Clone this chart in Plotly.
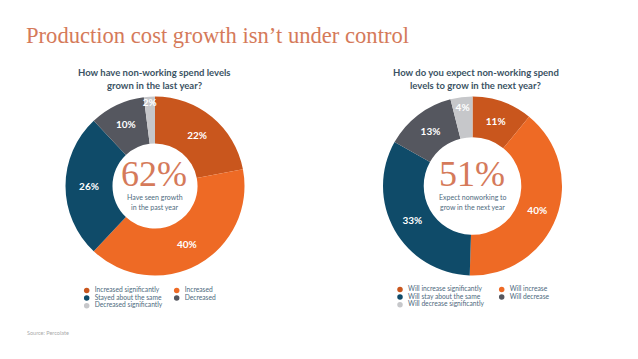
import plotly.graph_objects as go

# ---------------- data ----------------
TITLE = "Production cost growth isn’t under control"
SOURCE = "Source: Percolate"

LEFT_QUESTION = ["How have non-working spend levels", "grown in the last year?"]
LEFT_LABELS = ["Increased significantly", "Increased", "Stayed about the same",
               "Decreased", "Decreased significantly"]
LEFT_VALUES = [22, 40, 26, 10, 2]
LEFT_NOTE = ["Have seen growth", "in the past year"]

RIGHT_QUESTION = ["How do you expect non-working spend", "levels to grow in the next year?"]
RIGHT_LABELS = ["Will increase significantly", "Will increase", "Will stay about the same",
                "Will decrease", "Will decrease significantly"]
RIGHT_VALUES = [11, 40, 33, 13, 4]
RIGHT_NOTE = ["Expect nonworking to", "grow in the next year"]

# ---------------- style ----------------
W, H = 638, 359
COLORS = ["#C9561D", "#EE6A25", "#0F4B69", "#55575F", "#C6C7CA"]
TITLE_COLOR = "#D57A5A"
Q_COLOR = "#3B5364"
NOTE_COLOR = "#4E6A7E"
SERIF = "Liberation Serif, DejaVu Serif, serif"
SANS = "Lato, Open Sans, sans-serif"

donuts = [
    dict(labels=LEFT_LABELS, values=LEFT_VALUES, q=LEFT_QUESTION, note=LEFT_NOTE,
         cx=155, cy=186, r=89.5, hole=0.475, qx=154,
         leg_x=86.7, leg_y=290.5, col_step=90.0),
    dict(labels=RIGHT_LABELS, values=RIGHT_VALUES, q=RIGHT_QUESTION, note=RIGHT_NOTE,
         cx=472.5, cy=186, r=89.5, hole=0.545, qx=475.5,
         leg_x=400.0, leg_y=289.5, col_step=101.7),
]
ROW_STEP = 7.6

fig = go.Figure()
annotations = []

for d in donuts:
    fig.add_trace(go.Pie(
        labels=d["labels"], values=d["values"],
        marker=dict(colors=COLORS, line=dict(width=0)),
        hole=d["hole"], sort=False, direction="clockwise", rotation=0,
        texttemplate="%{value}%", textposition="inside",
        insidetextorientation="horizontal",
        textfont=dict(color="white", size=10, family=SANS, weight="bold"),
        domain=dict(x=[(d["cx"] - d["r"]) / W, (d["cx"] + d["r"]) / W],
                    y=[(H - d["cy"] - d["r"]) / H, (H - d["cy"] + d["r"]) / H]),
        showlegend=False, hoverinfo="skip",
    ))

    # legend drawn as markers + text (2 columns, row-major)
    cols = [i % 2 for i in range(len(d["labels"]))]
    rows = [i // 2 for i in range(len(d["labels"]))]
    mx = [d["leg_x"] + c * d["col_step"] for c in cols]
    my = [d["leg_y"] + r * ROW_STEP for r in rows]
    fig.add_trace(go.Scatter(
        x=mx, y=my, mode="markers",
        marker=dict(size=5.5, color=COLORS, line=dict(width=0)),
        showlegend=False, hoverinfo="skip", cliponaxis=False,
    ))
    fig.add_trace(go.Scatter(
        x=[v + 8 for v in mx], y=my, mode="text", text=d["labels"],
        textposition="middle right",
        textfont=dict(size=6.7, color=NOTE_COLOR, family=SANS),
        showlegend=False, hoverinfo="skip", cliponaxis=False,
    ))

    # question above donut
    for i, line in enumerate(d["q"]):
        annotations.append(dict(
            x=d["qx"], y=72.5 + i * 12.8, xref="x", yref="y", text=line,
            showarrow=False, xanchor="center", yanchor="middle",
            font=dict(size=9.5, color=Q_COLOR, family=SANS, weight="bold")))

    # center big number = share that grows
    growth = d["values"][0] + d["values"][1]
    annotations.append(dict(
        x=d["cx"] - 1, y=d["cy"] - 12, xref="x", yref="y", text=f"{growth}%",
        showarrow=False, xanchor="center", yanchor="middle",
        font=dict(size=36, color=TITLE_COLOR, family=SERIF)))
    for i, line in enumerate(d["note"]):
        annotations.append(dict(
            x=d["cx"], y=d["cy"] + 10.5 + i * 10, xref="x", yref="y", text=line,
            showarrow=False, xanchor="center", yanchor="middle",
            font=dict(size=7, color=NOTE_COLOR, family=SANS)))

annotations.append(dict(
    x=24, y=35, xref="x", yref="y", text=TITLE, showarrow=False,
    xanchor="left", yanchor="middle",
    font=dict(size=22.6, color=TITLE_COLOR, family=SERIF)))
annotations.append(dict(
    x=25, y=333, xref="x", yref="y", text=SOURCE, showarrow=False,
    xanchor="left", yanchor="middle",
    font=dict(size=5.5, color="#AAAAAA", family=SANS)))

fig.update_layout(
    width=W, height=H,
    margin=dict(l=0, r=0, t=0, b=0),
    paper_bgcolor="white", plot_bgcolor="white",
    xaxis=dict(range=[0, W], visible=False, fixedrange=True, domain=[0, 1]),
    yaxis=dict(range=[H, 0], visible=False, fixedrange=True, domain=[0, 1]),
    uniformtext=dict(minsize=10, mode="show"),
    annotations=annotations,
    showlegend=False,
)

fig.write_html(
    "out.html",
    config={"displayModeBar": False, "staticPlot": True},
    post_script="document.body.style.margin='0';document.body.style.overflow='hidden';",
)
